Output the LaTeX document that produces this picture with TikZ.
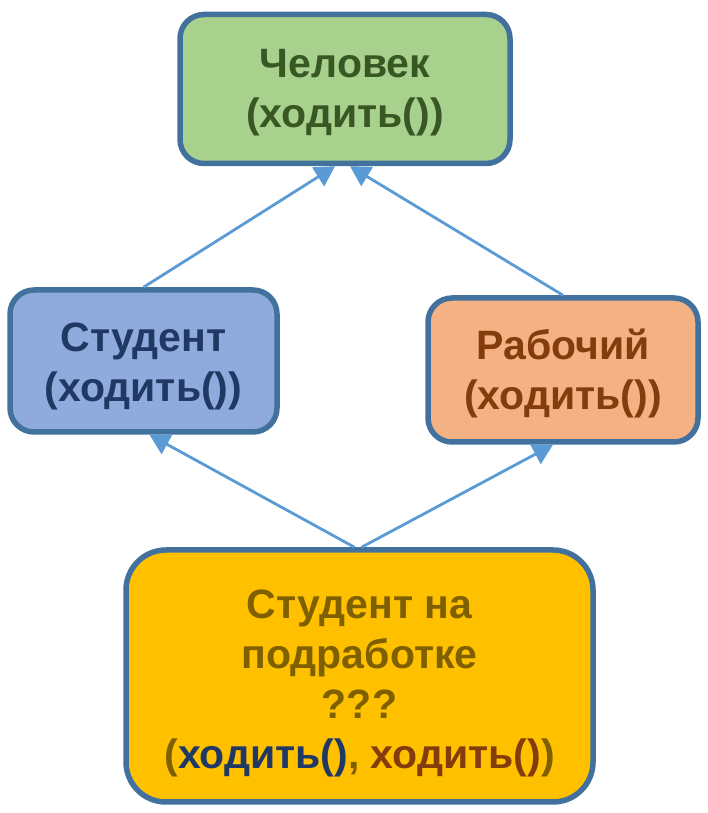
\documentclass[tikz,border=0pt]{standalone}
\usepackage{fontspec}
\setmainfont{Liberation Sans}
\usetikzlibrary{arrows.meta}
\definecolor{frameblue}{HTML}{41719C}
\definecolor{linkblue}{HTML}{5B9BD5}
\definecolor{greenfill}{HTML}{A9D18E}
\definecolor{greentext}{HTML}{385723}
\definecolor{bluefill}{HTML}{8FAADC}
\definecolor{bluetext}{HTML}{203864}
\definecolor{orangefill}{HTML}{F4B183}
\definecolor{orangetext}{HTML}{843C0C}
\definecolor{goldfill}{HTML}{FFC000}
\definecolor{goldtext}{HTML}{7F6000}
\begin{document}
\begin{tikzpicture}[x=1pt,y=1pt,
  classbox/.style={draw=frameblue, line width=5.5pt, rounded corners=24pt,
    inner sep=0pt},
  classtext/.style={align=center, inner sep=0pt,
    font=\fontsize{41}{50}\selectfont\bfseries},
  link/.style={draw=linkblue, line width=2.8pt,
    -{Triangle[length=20pt,width=22pt]}}]
\useasboundingbox (0,0) rectangle (708,813);
% class boxes
\node[classbox, fill=greenfill,
  minimum width=330pt, minimum height=149pt] (human) at (345,724) {};
\node[classbox, fill=bluefill,
  minimum width=267pt, minimum height=142pt] (student) at (143.5,452) {};
\node[classbox, fill=orangefill,
  minimum width=270pt, minimum height=144pt] (worker) at (563,443) {};
\node[classbox, fill=goldfill, rounded corners=40pt,
  minimum width=467pt, minimum height=252pt] (parttime) at (359.5,137) {};
% class names and their methods
\node[classtext, text=greentext] (humantext) at ([yshift=-4pt]human.center)
  {Человек\\(ходить())};
\node[classtext, text=bluetext] (studenttext) at ([yshift=-5pt]student.center)
  {Студент\\(ходить())};
\node[classtext, text=orangetext] (workertext) at ([yshift=-4pt]worker.center)
  {Рабочий\\(ходить())};
\node[classtext, text=goldtext] (parttimetext) at ([yshift=-7pt]parttime.center)
  {Студент на\\подработке\\???\\(\textcolor{bluetext}{ходить()}, \textcolor{orangetext}{ходить()})};
% inheritance links
\draw[link] (student.north) -- ([xshift=-10pt]human.south);
\draw[link] (worker.north) -- ([xshift=5pt]human.south);
\draw[link] ([xshift=-5pt]parttime.north) -- ([xshift=6pt]student.south);
\draw[link] ([xshift=2pt]parttime.north) -- ([xshift=-10pt]worker.south);
\end{tikzpicture}
\end{document}
